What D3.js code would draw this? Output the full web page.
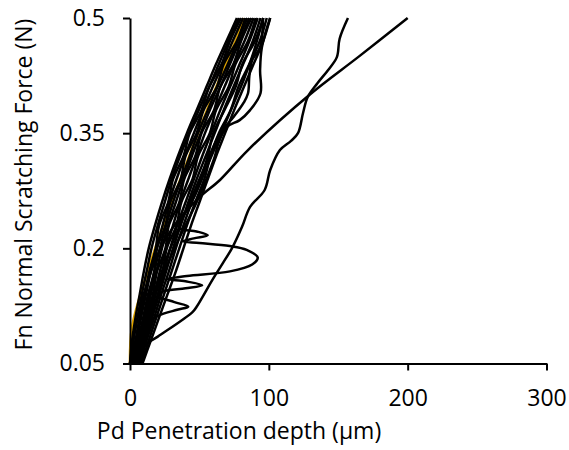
<!DOCTYPE html>
<html>
<head>
<meta charset="utf-8">
<script src="https://cdn.jsdelivr.net/npm/d3@7"></script>
<style>
  html, body { margin: 0; padding: 0; background: #fff; }
  svg { display: block; }
  .axis text { font-family: "Open Sans", sans-serif; font-size: 23px; fill: #000; }
  .label { font-family: "Open Sans", sans-serif; font-size: 23px; fill: #000; }
</style>
</head>
<body>
<svg id="chart" width="569" height="450"></svg>
<script>
// Axis ticks
const depthTicks = [0, 100, 200, 300];
const forceTicks = [0.05, 0.2, 0.35, 0.5];

// Shared force levels (N) for the regular scratch runs
const forceLevels = [0.05, 0.08, 0.11, 0.14, 0.17, 0.2, 0.23, 0.26, 0.29, 0.32, 0.35, 0.38, 0.41, 0.44, 0.47, 0.5];

// Penetration depth (µm) of each regular run at those force levels
const run01 = [0, 1.5, 4, 7, 10, 13.5, 18, 23, 28.5, 34.5, 41, 48, 55, 62, 69.5, 77];
const run02 = [1, 2.5, 5.5, 8.5, 12, 15.5, 20, 25, 30, 36, 42.5, 49.5, 57, 64, 71, 78.5];
const run03 = [2, 4, 7, 10.5, 14, 18.5, 21, 27.5, 31, 38.5, 43, 51.5, 57, 66, 72, 80];
const run04 = [2.5, 5, 8, 11.5, 15, 19, 23.5, 28, 33.5, 39.5, 46, 52.5, 59.5, 67, 74, 81.5];
const run05 = [3, 6, 9.5, 13, 17.5, 19.5, 25.5, 29, 36.5, 40, 48, 53, 62.5, 67.5, 77, 83];
const run06 = [3.5, 7, 10.5, 14, 17.5, 21.5, 26, 31, 37, 43, 49, 56, 63, 70.5, 77.5, 84.5];
const run07 = [4, 7.5, 11.5, 15, 19, 23, 27.5, 33, 38.5, 44.5, 51, 57.5, 65, 72, 79, 86];
const run08 = [4.5, 8.5, 12.5, 16.5, 19.5, 25.5, 28, 35.5, 39, 47, 51.5, 60.5, 65, 74.5, 80, 87.5];
const run09 = [5, 9, 13.5, 17.5, 21.5, 26, 31, 36, 42, 48, 54, 61, 68, 75, 82.5, 89];
const run10 = [5.5, 10, 14.5, 18.5, 23.5, 26.5, 33.5, 37, 45, 49, 57.5, 62, 71, 76, 85, 90.5];
const run11 = [6, 10.5, 15, 20, 24.5, 29, 34, 40, 46, 52, 58.5, 65, 72, 79, 86, 92];
const run12 = [6.5, 11.5, 16, 21, 26, 31, 36.5, 42, 48, 54.5, 61, 67.5, 74.5, 81.5, 88.5, 94];
const run13 = [7, 12, 17.5, 22.5, 28, 33, 38.5, 44.5, 51, 56, 60, 68, 76, 81, 90, 96];
const run14 = [8, 13.5, 19, 24.5, 30, 35.5, 41, 47, 53.5, 58, 64, 72.5, 78, 86, 93.5, 98.5];
const run15 = [9, 15, 21, 27, 33, 38.5, 44, 50, 56, 62, 68.5, 75, 82, 89, 96, 101];

// Run drawn in gold (partly hidden under the black runs)
const goldDepth = [0, 1.4, 10.8, 22, 41, 60, 81, 82];
const goldForce = [0.05, 0.097, 0.159, 0.22, 0.312, 0.401, 0.493, 0.5];

// Runs with irregular paths: depth (µm) and force (N) point by point
const wavyADepth = [0, 6, 12, 18, 25, 32, 40, 48, 55, 61, 63.7, 69.7, 79, 86.5, 94, 93.7, 95, 100.9];
const wavyAForce = [0.05, 0.08, 0.11, 0.14, 0.17, 0.2, 0.23, 0.26, 0.29, 0.319, 0.337, 0.358, 0.367, 0.38, 0.402, 0.432, 0.462, 0.5];

const wavyBDepth = [0, 5, 11, 17, 23, 29, 36, 43, 50, 57, 65, 75, 82, 85, 86, 88, 93.7, 95.8];
const wavyBForce = [0.05, 0.08, 0.11, 0.14, 0.17, 0.2, 0.23, 0.26, 0.29, 0.32, 0.35, 0.372, 0.39, 0.402, 0.425, 0.445, 0.462, 0.5];

const chatterDepth = [0, 4, 10, 20, 34, 42, 32, 20, 24, 40, 52, 40, 27, 41, 72, 88, 92, 84, 72, 50, 38, 46, 56, 48, 36, 36, 41, 47, 54, 61, 68, 75, 82, 88, 93, 96];
const chatterForce = [0.05, 0.08, 0.1, 0.112, 0.12, 0.124, 0.13, 0.138, 0.144, 0.148, 0.152, 0.157, 0.16, 0.164, 0.17, 0.179, 0.188, 0.198, 0.203, 0.207, 0.209, 0.213, 0.217, 0.222, 0.226, 0.235, 0.25, 0.27, 0.3, 0.33, 0.36, 0.39, 0.42, 0.45, 0.48, 0.5];

const smoothDepth = [0, 3.6, 10.8, 21.6, 34, 50.4, 64.8, 85, 130, 165, 200];
const smoothForce = [0.05, 0.094, 0.146, 0.198, 0.235, 0.267, 0.289, 0.328, 0.401, 0.45, 0.5];

const deepDepth = [0, 3.6, 8.6, 20, 45, 48, 60, 67, 74, 80.7, 86.5, 97, 101, 108, 116, 121, 124.6, 128, 135, 142.6, 149, 151, 157];
const deepForce = [0.05, 0.055, 0.071, 0.085, 0.117, 0.124, 0.161, 0.181, 0.202, 0.228, 0.254, 0.276, 0.302, 0.328, 0.34, 0.35, 0.376, 0.397, 0.415, 0.432, 0.449, 0.473, 0.5];

const svg = d3.select("#chart");

const x = d3.scaleLinear().domain([0, 300]).range([130, 546.5]);
const y = d3.scaleLinear().domain([0.05, 0.5]).range([363.5, 18]);

const line = d3.line()
  .x(d => x(d[0]))
  .y(d => y(d[1]))
  .curve(d3.curveCatmullRom.alpha(0.5));

const pairLevels = depths => depths.map((v, i) => [v, forceLevels[i]]);
const pairXY = (xs, ys) => xs.map((v, i) => [v, ys[i]]);

const blackRuns = [
  pairXY(smoothDepth, smoothForce),
  pairXY(deepDepth, deepForce),
  pairXY(chatterDepth, chatterForce),
  pairXY(wavyADepth, wavyAForce),
  pairXY(wavyBDepth, wavyBForce),
  ...[run15, run14, run13, run12, run11, run10, run09, run08, run07, run06, run05, run04, run03, run02, run01].map(pairLevels)
];

const plot = svg.append("g");

plot.append("path")
  .attr("d", line(pairXY(goldDepth, goldForce)))
  .attr("fill", "none")
  .attr("stroke", "#E0A400")
  .attr("stroke-width", 2.6);

plot.selectAll("path.run")
  .data(blackRuns)
  .join("path")
  .attr("class", "run")
  .attr("d", line)
  .attr("fill", "none")
  .attr("stroke", "#000")
  .attr("stroke-width", 2.5)
  .attr("stroke-linejoin", "round");

// Axes
const xAxis = d3.axisBottom(x).tickValues(depthTicks).tickFormat(d3.format("d"))
  .tickSizeInner(7).tickSizeOuter(0).tickPadding(19);
const yAxis = d3.axisLeft(y).tickValues(forceTicks).tickFormat(d => String(d))
  .tickSizeInner(7).tickSizeOuter(0).tickPadding(18);

const gx = svg.append("g").attr("class", "axis").attr("transform", "translate(0,363.5)").call(xAxis);
const gy = svg.append("g").attr("class", "axis").attr("transform", "translate(130,0)").call(yAxis);

[gx, gy].forEach(g => {
  g.selectAll("path.domain").attr("stroke", "#000").attr("stroke-width", 2);
  g.selectAll(".tick line").attr("stroke", "#000").attr("stroke-width", 2);
  g.selectAll("text").attr("fill", "#000");
});

// Axis titles
svg.append("text")
  .attr("class", "label")
  .attr("x", 239)
  .attr("y", 439)
  .attr("text-anchor", "middle")
  .text("Pd Penetration depth (µm)");

svg.append("text")
  .attr("class", "label")
  .attr("transform", "translate(32,184.5) rotate(-90)")
  .attr("text-anchor", "middle")
  .text("Fn Normal Scratching Force (N)");
</script>
</body>
</html>
